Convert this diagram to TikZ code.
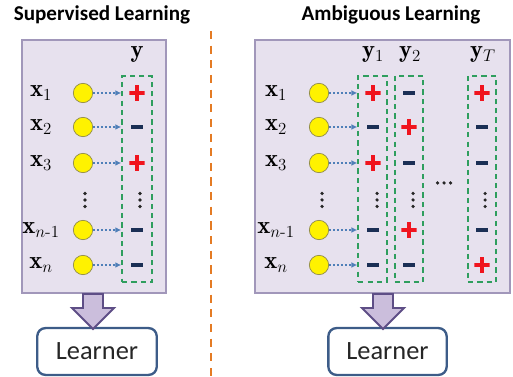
\documentclass[tikz,border=0pt]{standalone}
\usepackage{amsmath}
\usepackage{fontspec}
\newfontfamily\calibri{Carlito}
\usetikzlibrary{arrows.meta}
\definecolor{panelfill}{HTML}{E7E1EE}
\definecolor{paneldraw}{HTML}{A197BA}
\definecolor{arrowfill}{HTML}{CBBEDC}
\definecolor{arrowdraw}{HTML}{5E4E86}
\definecolor{learndraw}{HTML}{3D5C88}
\definecolor{plusred}{HTML}{F0141E}
\definecolor{minusnavy}{HTML}{1B2F55}
\definecolor{dotblue}{HTML}{4F7FB8}
\definecolor{boxgreen}{HTML}{2F9E5E}
\definecolor{splitorange}{HTML}{E47B24}
\tikzset{
  panel/.style={draw=paneldraw, line width=2.2pt, fill=panelfill, inner sep=0pt},
  learner/.style={draw=learndraw, line width=2pt, rounded corners=7pt, fill=white,
    minimum height=40pt, inner sep=0pt, font=\calibri\fontsize{22.5}{26}\selectfont, text=black!85},
  bigarrow/.style={draw=arrowdraw, line width=1.6pt, fill=arrowfill, line join=miter},
  title/.style={font=\calibri\bfseries\fontsize{18}{21}\selectfont},
  xlabel/.style={font=\fontsize{21}{24}\selectfont, inner sep=0pt},
  sample/.style={circle, draw=black!50!yellow, line width=0.6pt, fill=yellow, minimum size=16.5pt, inner sep=0pt},
  ybox/.style={draw=boxgreen, line width=1.5pt, dash pattern=on 4.5pt off 3.5pt, minimum height=176pt, inner sep=0pt},
  link/.style={dotblue, line width=1.4pt, dotted, -{Latex[length=5pt,width=5pt]}},
  plussign/.style={minimum size=13pt, inner sep=0pt, path picture={
    \fill[plusred] ([xshift=-6.5pt,yshift=-2pt]path picture bounding box.center) rectangle ([xshift=6.5pt,yshift=2pt]path picture bounding box.center);
    \fill[plusred] ([xshift=-2pt,yshift=-6.5pt]path picture bounding box.center) rectangle ([xshift=2pt,yshift=6.5pt]path picture bounding box.center);}},
  minussign/.style={fill=minusnavy, minimum width=11pt, minimum height=3.6pt, inner sep=0pt}
}
\begin{document}
\begin{tikzpicture}[x=0.03cm, y=-0.03cm]
\useasboundingbox (0,0) rectangle (513,377);
% titles and split
\node[title] (ttl1) at (102,15) {Supervised Learning};
\node[title] (ttl2) at (391,15) {Ambiguous Learning};
\coordinate (sp1) at (211,31);
\coordinate (sp2) at (211,377);
\draw[splitorange, line width=1.6pt, dash pattern=on 7pt off 5.5pt] (sp1) -- (sp2);

% supervised learning
\node[panel, minimum width=123pt, minimum height=216pt] (lpanel) at (94,166.5) {};
\node[ybox, minimum width=25.5pt] (lybox) at (137,179) {};
\node[xlabel] (ly) at (137,55) {$\mathbf{y}$};
\foreach \r/\yy/\lab/\s in {1/93/1/plussign, 2/127/2/minussign, 3/163/3/plussign, 4/230/{n\text{-}1}/minussign, 5/265/n/minussign}{
  \node[xlabel] (lx\r) at (41,\yy) {$\mathbf{x}_{\lab}$};
  \node[sample] (lc\r) at (83,\yy) {};
  \node[\s] (ls\r) at (137,\yy) {};
  \draw[link] (lc\r) -- (lc\r -| lybox.west);
}
\node[learner, minimum width=102pt] (llearn) at (97,351.5) {Learner};

% ambiguous learning
\node[panel, minimum width=217.5pt, minimum height=216pt] (rpanel) at (382.5,166.5) {};
\node[ybox, minimum width=24.5pt] (rybox1) at (372.5,179) {};
\node[ybox, minimum width=24pt] (rybox2) at (409,179) {};
\node[ybox, minimum width=24pt] (rybox3) at (482,179) {};
\node[xlabel] (ry1) at (373,55) {$\mathbf{y}_1$};
\node[xlabel] (ry2) at (410,55) {$\mathbf{y}_2$};
\node[xlabel] (ry3) at (483,55) {$\mathbf{y}_T$};
\foreach \r/\yy/\lab/\sa/\sb/\sc in {1/93/1/plussign/minussign/plussign, 2/127/2/minussign/plussign/minussign, 3/163/3/plussign/minussign/minussign, 4/230/{n\text{-}1}/minussign/plussign/minussign, 5/265/n/minussign/minussign/plussign}{
  \node[xlabel] (rx\r) at (276,\yy) {$\mathbf{x}_{\lab}$};
  \node[sample] (rc\r) at (319,\yy) {};
  \node[\sa] (ra\r) at (373,\yy) {};
  \node[\sb] (rb\r) at (409,\yy) {};
  \node[\sc] (rt\r) at (482,\yy) {};
  \draw[link] (rc\r) -- (rc\r -| rybox1.west);
}
\node[learner, minimum width=101pt] (rlearn) at (387.5,351.5) {Learner};

% continuation dots
\foreach \dx in {85,140,322,377,413,485}
  \foreach \k in {-6.5,0,6.5}
    \fill[black!85] (\dx,200+\k) circle (1.5pt);
\foreach \k in {-6.5,0,6.5}
  \fill[black!85] (444+\k,183) circle (1.5pt);

% block arrows to the learners
\foreach \ax in {93,383}
  \draw[bigarrow] (\ax-10,294) -- (\ax+10,294) -- (\ax+10,308) -- (\ax+21,308)
    -- (\ax,329) -- (\ax-21,308) -- (\ax-10,308) -- cycle;
\end{tikzpicture}
\end{document}
